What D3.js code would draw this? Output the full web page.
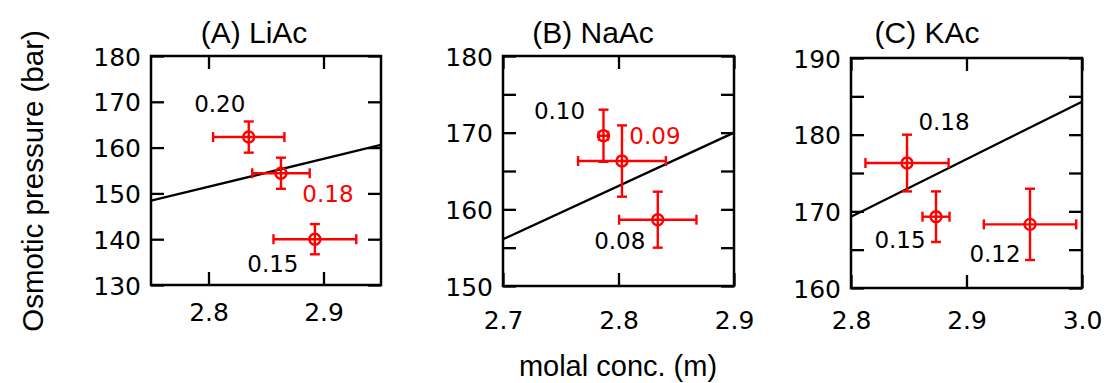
<!DOCTYPE html>
<html>
<head>
<meta charset="utf-8">
<script src="https://cdn.jsdelivr.net/npm/d3@7/dist/d3.min.js"></script>
<style>
  html, body { margin: 0; padding: 0; background: #fff; }
  svg { display: block; }
</style>
</head>
<body>
<svg id="chart" width="1105" height="383"></svg>
<script>
// ---- data ----
const panelTitles = ["(A) LiAc", "(B) NaAc", "(C) KAc"];

// (A) LiAc
const liacConc        = [2.835, 2.863, 2.8925];
const liacConcErr     = [0.031, 0.025, 0.036];
const liacPressure    = [162.3, 154.4, 140.0];
const liacPressureErr = [3.4, 3.4, 3.3];
const liacLabels      = ["0.20", "0.18", "0.15"];
const liacFitConc     = [2.75, 2.95];
const liacFitPressure = [148.4, 160.6];
const liacXTicks      = [2.8, 2.9];
const liacYTicks      = [130, 140, 150, 160, 170, 180];
const liacYLabels     = [130, 140, 150, 160, 170, 180];

// (B) NaAc
const naacConc        = [2.787, 2.803, 2.834];
const naacConcErr     = [0.004, 0.038, 0.0335];
const naacPressure    = [169.6, 166.3, 158.65];
const naacPressureErr = [3.4, 4.65, 3.65];
const naacLabels      = ["0.10", "0.09", "0.08"];
const naacFitConc     = [2.7, 2.9];
const naacFitPressure = [156.1, 170.0];
const naacXTicks      = [2.7, 2.8, 2.9];
const naacYTicks      = [150, 155, 160, 165, 170, 175, 180];
const naacYLabels     = [150, 160, 170, 180];

// (C) KAc
const kacConc         = [2.8485, 2.8736, 2.955];
const kacConcErr      = [0.036, 0.0117, 0.04];
const kacPressure     = [176.3, 169.3, 168.3];
const kacPressureErr  = [3.7, 3.3, 4.65];
const kacLabels       = ["0.18", "0.15", "0.12"];
const kacFitConc      = [2.8, 3.0];
const kacFitPressure  = [169.3, 184.3];
const kacXTicks       = [2.8, 2.9, 3.0];
const kacYTicks       = [160, 165, 170, 175, 180, 185, 190];
const kacYLabels      = [160, 170, 180, 190];

const xTitle = "molal conc. (m)";
const yTitle = "Osmotic pressure (bar)";

// ---- layout & style ----
const RED = "#ff0000";
const SANS = "Liberation Sans, Arial, Helvetica, sans-serif";
const panels = [
  {
    title: panelTitles[0], conc: liacConc, concErr: liacConcErr,
    p: liacPressure, pErr: liacPressureErr, labels: liacLabels,
    fitX: liacFitConc, fitY: liacFitPressure,
    xDomain: [2.75, 2.95], yDomain: [130, 180],
    xTicks: liacXTicks, yTicks: liacYTicks, yLabels: liacYLabels,
    box: { x0: 151, x1: 381, y0: 56, y1: 285 },
    xLabelY: 312, titleX: 254,
    labelColors: ["#000", RED, "#000"],
    labelOffsets: [[-29, -33], [47, 20], [-42, 25]]
  },
  {
    title: panelTitles[1], conc: naacConc, concErr: naacConcErr,
    p: naacPressure, pErr: naacPressureErr, labels: naacLabels,
    fitX: naacFitConc, fitY: naacFitPressure,
    xDomain: [2.7, 2.9], yDomain: [150, 180],
    xTicks: naacXTicks, yTicks: naacYTicks, yLabels: naacYLabels,
    box: { x0: 503, x1: 734, y0: 56, y1: 286 },
    xLabelY: 320, titleX: 593,
    labelColors: ["#000", RED, "#000"],
    labelOffsets: [[-44, -25], [33, -25], [-38, 21]]
  },
  {
    title: panelTitles[2], conc: kacConc, concErr: kacConcErr,
    p: kacPressure, pErr: kacPressureErr, labels: kacLabels,
    fitX: kacFitConc, fitY: kacFitPressure,
    xDomain: [2.8, 3.0], yDomain: [160, 190],
    xTicks: kacXTicks, yTicks: kacYTicks, yLabels: kacYLabels,
    box: { x0: 851, x1: 1082, y0: 58, y1: 288 },
    xLabelY: 320, titleX: 927,
    labelColors: ["#000", "#000", "#000"],
    labelOffsets: [[37, -41], [-36, 23], [-35, 29]]
  }
];

const TICK = 13;
const svg = d3.select("#chart");
svg.append("rect").attr("width", 1105).attr("height", 383).attr("fill", "#fff");

panels.forEach(pn => {
  const b = pn.box;
  const x = d3.scaleLinear().domain(pn.xDomain).range([b.x0, b.x1]);
  const y = d3.scaleLinear().domain(pn.yDomain).range([b.y1, b.y0]);
  const g = svg.append("g");

  // inward ticks on all four sides via d3 axes
  const fmtX = d3.format(".1f");
  const axB = d3.axisBottom(x).tickValues(pn.xTicks).tickSizeInner(-TICK).tickSizeOuter(0).tickFormat(fmtX);
  const axT = d3.axisTop(x).tickValues(pn.xTicks).tickSizeInner(-TICK).tickSizeOuter(0).tickFormat("");
  const axL = d3.axisLeft(y).tickValues(pn.yTicks).tickSizeInner(-TICK).tickSizeOuter(0)
    .tickFormat(d => pn.yLabels.includes(d) ? String(d) : "");
  const axR = d3.axisRight(y).tickValues(pn.yTicks).tickSizeInner(-TICK).tickSizeOuter(0).tickFormat("");

  const gB = g.append("g").attr("transform", `translate(0,${b.y1})`).call(axB);
  const gT = g.append("g").attr("transform", `translate(0,${b.y0})`).call(axT);
  const gL = g.append("g").attr("transform", `translate(${b.x0},0)`).call(axL);
  const gR = g.append("g").attr("transform", `translate(${b.x1},0)`).call(axR);

  [gB, gT, gL, gR].forEach(a => {
    a.select(".domain").remove();
    a.selectAll(".tick line").attr("stroke", "#000").attr("stroke-width", 2.3);
    a.selectAll("text").attr("font-family", "DejaVu Sans").attr("font-size", 25).attr("fill", "#000");
  });
  gB.selectAll(".tick text").attr("y", pn.xLabelY - b.y1).attr("dy", "0.36em");
  gL.selectAll(".tick text").attr("x", -10).attr("dy", "0.36em");

  // frame
  g.append("rect")
    .attr("x", b.x0).attr("y", b.y0)
    .attr("width", b.x1 - b.x0).attr("height", b.y1 - b.y0)
    .attr("fill", "none").attr("stroke", "#000").attr("stroke-width", 2.5);

  // fitted line, clipped to the frame
  const clipId = "clip" + pn.title.replace(/[^A-Za-z]/g, "");
  svg.append("clipPath").attr("id", clipId)
    .append("rect").attr("x", b.x0).attr("y", b.y0)
    .attr("width", b.x1 - b.x0).attr("height", b.y1 - b.y0);
  const fit = pn.fitX.map((v, i) => [v, pn.fitY[i]]);
  g.append("path")
    .datum(fit)
    .attr("clip-path", `url(#${clipId})`)
    .attr("d", d3.line().x(d => x(d[0])).y(d => y(d[1])))
    .attr("fill", "none").attr("stroke", "#000").attr("stroke-width", 2.3);

  // points with error bars
  const pts = pn.conc.map((c, i) => ({
    c, ce: pn.concErr[i], p: pn.p[i], pe: pn.pErr[i],
    label: pn.labels[i], color: pn.labelColors[i], off: pn.labelOffsets[i]
  }));
  const CAP = 5;
  const pg = g.selectAll(".pt").data(pts).enter().append("g")
    .attr("stroke", RED).attr("stroke-width", 2.4).attr("fill", "none");
  pg.append("line")
    .attr("x1", d => x(d.c - d.ce)).attr("x2", d => x(d.c + d.ce))
    .attr("y1", d => y(d.p)).attr("y2", d => y(d.p));
  pg.append("line")
    .attr("x1", d => x(d.c - d.ce)).attr("x2", d => x(d.c - d.ce))
    .attr("y1", d => y(d.p) - CAP).attr("y2", d => y(d.p) + CAP);
  pg.append("line")
    .attr("x1", d => x(d.c + d.ce)).attr("x2", d => x(d.c + d.ce))
    .attr("y1", d => y(d.p) - CAP).attr("y2", d => y(d.p) + CAP);
  pg.append("line")
    .attr("x1", d => x(d.c)).attr("x2", d => x(d.c))
    .attr("y1", d => y(d.p - d.pe)).attr("y2", d => y(d.p + d.pe));
  pg.append("line")
    .attr("x1", d => x(d.c) - CAP).attr("x2", d => x(d.c) + CAP)
    .attr("y1", d => y(d.p + d.pe)).attr("y2", d => y(d.p + d.pe));
  pg.append("line")
    .attr("x1", d => x(d.c) - CAP).attr("x2", d => x(d.c) + CAP)
    .attr("y1", d => y(d.p - d.pe)).attr("y2", d => y(d.p - d.pe));
  pg.append("circle")
    .attr("cx", d => x(d.c)).attr("cy", d => y(d.p)).attr("r", 5.5);

  // concentration labels next to the points
  g.selectAll(".lbl").data(pts).enter().append("text")
    .attr("x", d => x(d.c) + d.off[0])
    .attr("y", d => y(d.p) + d.off[1])
    .attr("dy", "0.36em")
    .attr("text-anchor", "middle")
    .attr("font-family", "DejaVu Sans").attr("font-size", 23)
    .attr("fill", d => d.color)
    .text(d => d.label);

  // panel title
  g.append("text")
    .attr("x", pn.titleX).attr("y", 43)
    .attr("text-anchor", "middle")
    .attr("font-family", SANS).attr("font-size", 30)
    .attr("fill", "#000")
    .text(pn.title);
});

// shared axis titles
svg.append("text")
  .attr("transform", "translate(43,181) rotate(-90)")
  .attr("text-anchor", "middle")
  .attr("font-family", SANS).attr("font-size", 29.5)
  .attr("fill", "#000")
  .text(yTitle);

svg.append("text")
  .attr("x", 618).attr("y", 376)
  .attr("text-anchor", "middle")
  .attr("font-family", SANS).attr("font-size", 29)
  .attr("fill", "#000")
  .text(xTitle);
</script>
</body>
</html>
